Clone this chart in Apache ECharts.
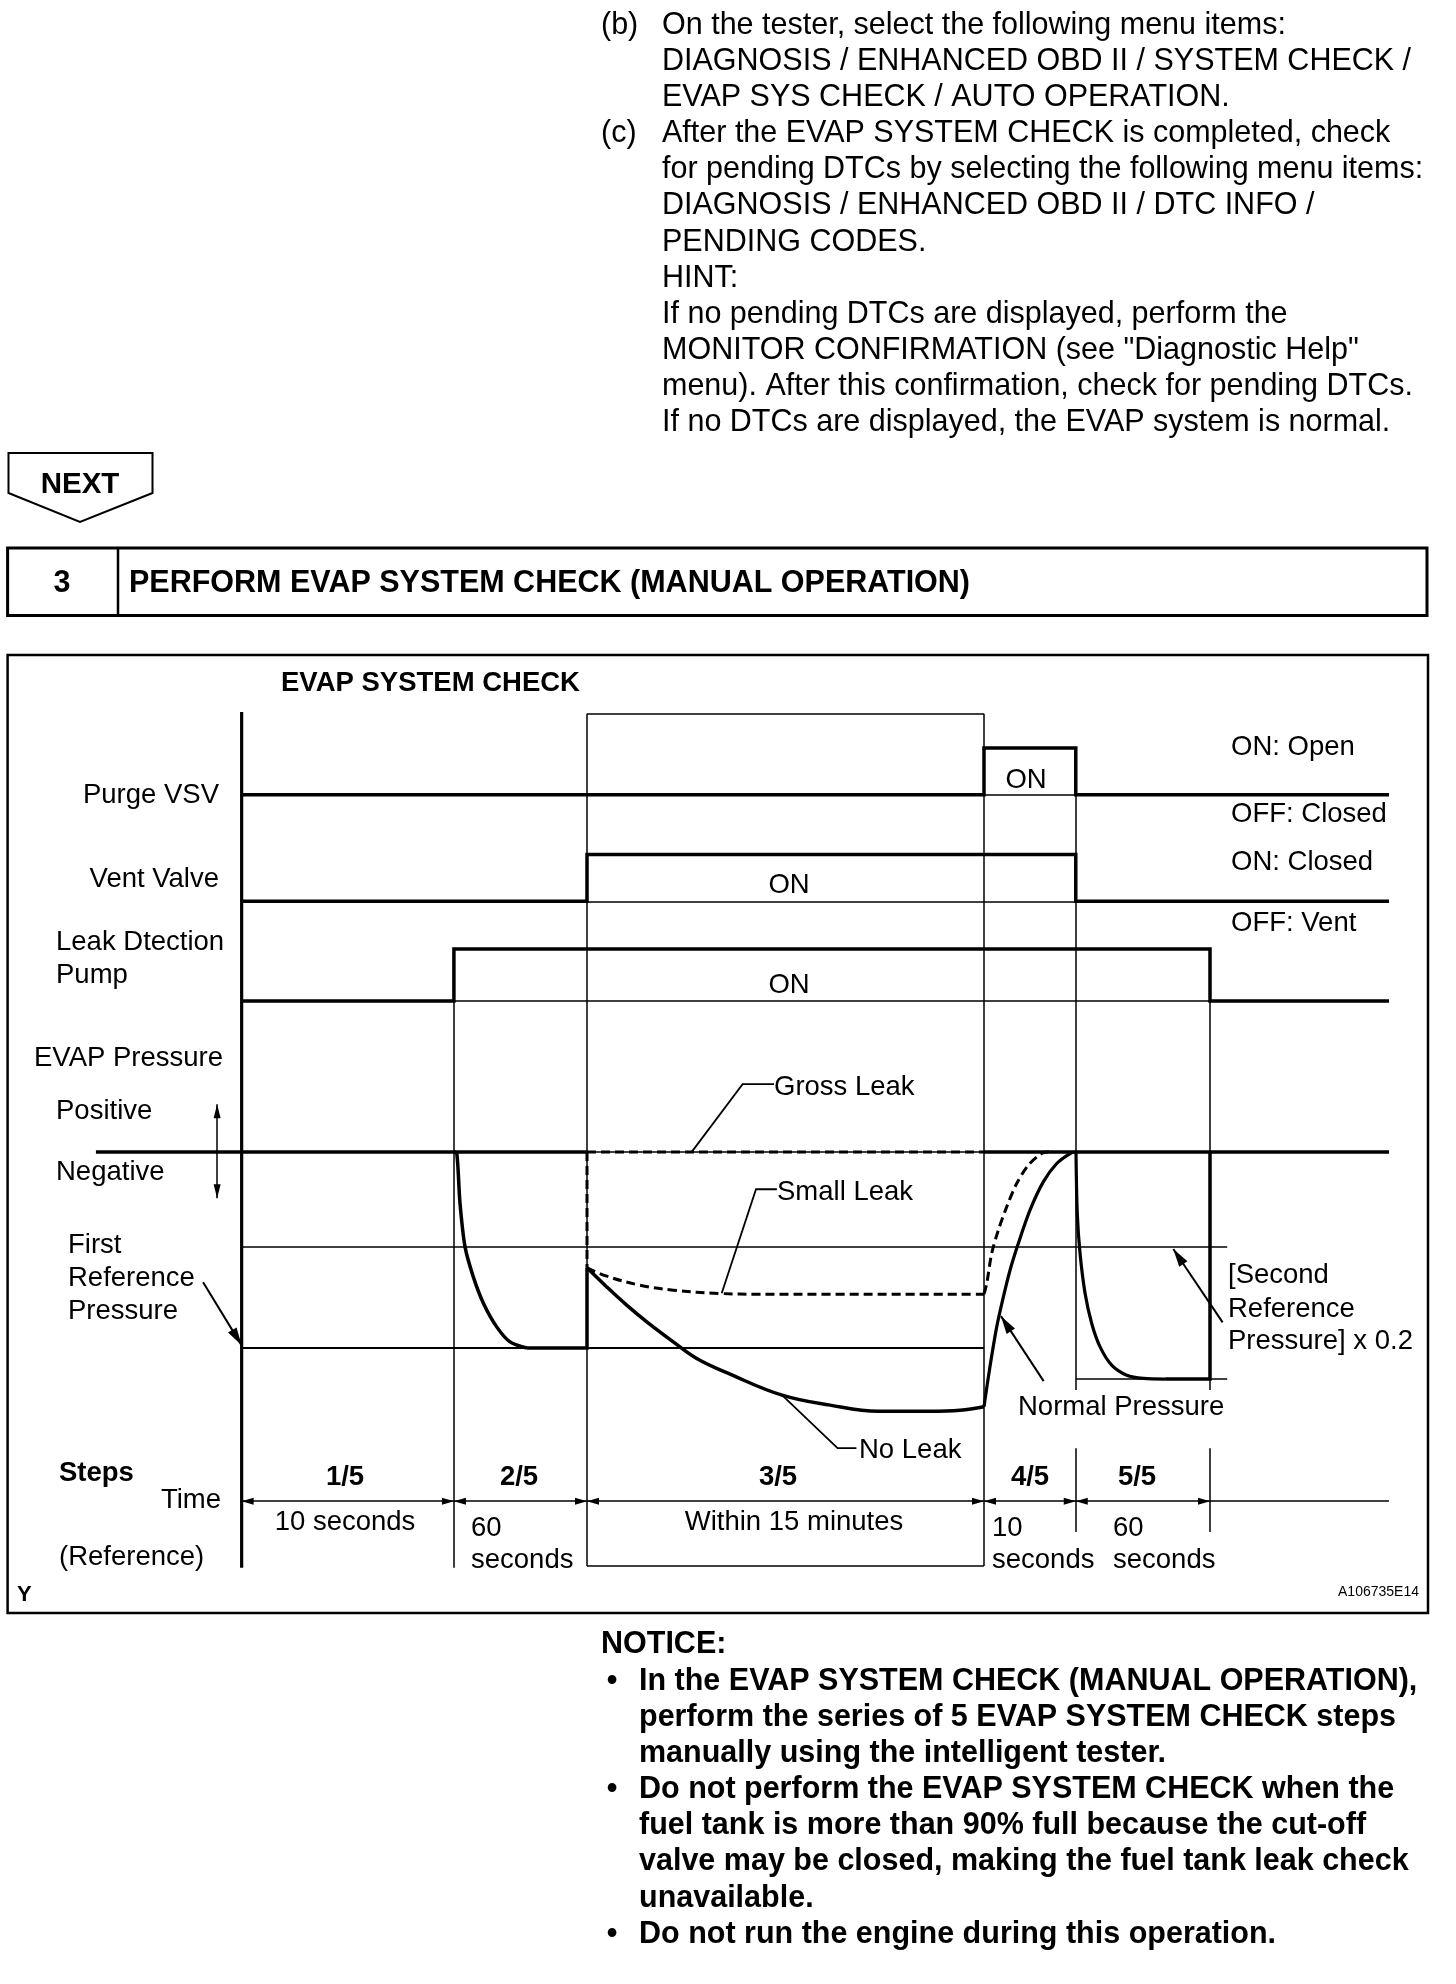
<!DOCTYPE html>
<html>
<head>
<meta charset="utf-8">
<title>EVAP SYSTEM CHECK</title>
<script src="https://cdn.jsdelivr.net/npm/echarts@6/dist/echarts.min.js"></script>
<style>
  html, body { margin: 0; padding: 0; background: #fff; }
  #page { width: 1456px; height: 1984px; }
</style>
</head>
<body>
<div id="page"></div>
<script>
// schematic time axis: 0 = main axis, 100 = right end of the traces
const stepEdges = [0, 18.5, 30.1, 64.7, 72.7, 84.4]
const stepNames = ['1/5', '2/5', '3/5', '4/5', '5/5']

// levels on the schematic vertical axis
const zeroLevel = 48.6 // atmospheric (Positive / Negative border)
const secondRefLevel = 37.45
const firstRefLevel = 25.6
const secondRefLowLevel = 21.95 // [Second Reference Pressure] x 0.2
const timeRowLevel = 7.62

// on/off traces
const purgeVsv = [[0, 90.5], [64.7, 90.5], [64.7, 96], [72.7, 96], [72.7, 90.5], [100, 90.5]]
const ventValve = [[0, 78], [30.1, 78], [30.1, 83.5], [72.7, 83.5], [72.7, 78], [100, 78]]
const leakPump = [[0, 66.3], [18.5, 66.3], [18.5, 72.4], [84.4, 72.4], [84.4, 66.3], [100, 66.3]]

// EVAP pressure traces
const stepTwoDrop = [[18.5, 48.6], [18.75, 48.45], [19.03, 42.6], [19.47, 37.45], [20.19, 33.94],
  [21.07, 30.85], [22.23, 28.07], [23.39, 26.31], [24.85, 25.6]]
const stepTwoHold = [[24.85, 25.6], [30.1, 25.6], [30.1, 35.0]]
const noLeak = [[30.1, 35.0], [31.82, 32.76], [33.56, 30.62], [35.31, 28.66], [37.62, 26.31],
  [39.66, 24.36], [42.57, 22.52], [47.1, 20.06], [51.28, 18.89], [55.46, 18.18], [60.0, 18.18],
  [62.61, 18.3], [64.7, 18.71]]
const noLeakRise = [[64.7, 18.71], [65.22, 23.38], [65.81, 28.07], [66.39, 31.59], [66.97, 34.72],
  [67.69, 37.85], [68.71, 41.76], [69.87, 45.08], [71.04, 47.24], [72.2, 48.41], [72.72, 48.62]]
const smallLeak = [[30.1, 35.0], [31.82, 34.02], [34.72, 32.96], [37.62, 32.38], [41.69, 31.99],
  [45.18, 31.91], [64.7, 31.91]]
const smallLeakRise = [[64.7, 31.91], [64.94, 33.16], [65.37, 36.68], [65.95, 39.41], [66.68, 42.15],
  [67.55, 44.89], [68.56, 47.04], [69.73, 48.41], [70.46, 48.62]]
const grossLeakDrop = [[30.1, 48.6], [30.1, 35.0]]
const grossLeakHold = [[30.1, 48.6], [64.7, 48.6]]
const stepFiveDrop = [[72.72, 48.62], [72.83, 41.41], [73.07, 36.72], [73.51, 32.02], [74.09, 28.47],
  [74.82, 25.72], [75.83, 23.58], [77.14, 22.4], [78.59, 22.02], [80.5, 21.95]]
const stepFiveHold = [[80.5, 21.95], [84.4, 21.95], [84.4, 48.6]]

// leader lines of the curve names
const grossLeader = [[39.23, 48.6], [43.66, 56.54], [46.4, 56.54]]
const smallLeader = [[41.84, 32.02], [44.83, 44.22], [46.65, 44.22]]
const noLeakLeader = [[47.1, 20.06], [51.94, 13.84], [53.58, 13.84]]

const introLines = [
  'On the tester, select the following menu items:',
  'DIAGNOSIS / ENHANCED OBD II / SYSTEM CHECK /',
  'EVAP SYS CHECK / AUTO OPERATION.',
  'After the EVAP SYSTEM CHECK is completed, check',
  'for pending DTCs by selecting the following menu items:',
  'DIAGNOSIS / ENHANCED OBD II / DTC INFO /',
  'PENDING CODES.',
  'HINT:',
  'If no pending DTCs are displayed, perform the',
  'MONITOR CONFIRMATION (see "Diagnostic Help"',
  'menu). After this confirmation, check for pending DTCs.',
  'If no DTCs are displayed, the EVAP system is normal.'
]
const noticeLines = [
  'In the EVAP SYSTEM CHECK (MANUAL OPERATION),',
  'perform the series of 5 EVAP SYSTEM CHECK steps',
  'manually using the intelligent tester.',
  'Do not perform the EVAP SYSTEM CHECK when the',
  'fuel tank is more than 90% full because the cut-off',
  'valve may be closed, making the fuel tank leak check',
  'unavailable.',
  'Do not run the engine during this operation.'
]

const FONT = '"Liberation Sans", Arial, Helvetica, sans-serif'
const BODY = 30.5 // document text
const DIA = 27.5 // diagram text
const DY = 2.5 // text baseline nudge

const label = (text, x, y, size, opts) => {
  opts = opts || {}
  return {
    type: 'text',
    x: x,
    y: y + DY,
    z: 100,
    silent: true,
    style: {
      text: text,
      fill: '#000',
      font: (opts.bold ? 'bold ' : '') + size + 'px ' + FONT,
      textAlign: opts.align || 'left',
      textVerticalAlign: 'middle'
    }
  }
}

const trace = (data, width, opts) => { // one black polyline
  opts = opts || {}
  return {
    type: 'line',
    data: data,
    symbol: 'none',
    silent: true,
    clip: false,
    animation: false,
    smooth: opts.smooth || false,
    lineStyle: {
      color: '#000',
      width: width,
      type: opts.dash ? [9, 5] : 'solid',
      join: 'miter',
      cap: 'butt'
    },
    z: opts.z || 3
  }
}

const seg = (x1, y1, x2, y2, width) => [
  { coord: [x1, y1], lineStyle: { width: width || 1.5 } },
  { coord: [x2, y2] }
]

// thin guide lines of the diagram
const guides = [
  seg(64.7, 90.5, 72.7, 90.5),
  seg(30.1, 78, 72.7, 78),
  seg(18.5, 66.3, 84.4, 66.3),
  seg(30.1, zeroLevel, 64.7, zeroLevel),
  seg(0, secondRefLevel, 85.9, secondRefLevel),
  seg(0, firstRefLevel, 64.7, firstRefLevel, 2.2),
  seg(72.7, secondRefLowLevel, 85.9, secondRefLowLevel),
  seg(30.1, 100, 64.7, 100),
  seg(30.1, 0, 64.7, 0),
  seg(30.1, 0, 30.1, 100),
  seg(64.7, 0, 64.7, 100),
  seg(18.5, 72.4, 18.5, -0.2),
  seg(72.7, 96, 72.7, 20.65),
  seg(84.4, 72.4, 84.4, 20.65),
  seg(72.7, 13.84, 72.7, 3.99),
  seg(84.4, 13.84, 84.4, 3.99),
  seg(84.4, timeRowLevel, 100, timeRowLevel)
]

// double headed arrows of the time row
const timeArrows = []
for (let i = 0; i < stepNames.length; i++) {
  timeArrows.push([
    { coord: [stepEdges[i], timeRowLevel] },
    { coord: [stepEdges[i + 1], timeRowLevel] }
  ])
}

const pointerArrows = [
  [{ coord: [-3.36, 33.31] }, { coord: [0, 25.9] }], // First Reference Pressure
  [{ coord: [69.9, 21.7] }, { coord: [66.18, 29.33] }], // Normal Pressure
  [{ coord: [85.5, 28.6] }, { coord: [81.2, 37.2] }] // [Second Reference Pressure] x 0.2
]

const option = {
  backgroundColor: '#fff',
  animation: false,
  grid: { left: 7.6, top: 655, width: 1420.4, height: 958 },
  xAxis: { type: 'value', min: -20.4, max: 103.4, show: false },
  yAxis: { type: 'value', min: -5.5, max: 106.9, show: false },
  series: [
    trace(purgeVsv, 3.5),
    trace(ventValve, 3.5),
    trace(leakPump, 3.5),
    trace([[-12.7, zeroLevel], [30.1, zeroLevel]], 3.5),
    trace([[64.7, zeroLevel], [100, zeroLevel]], 3.5),
    trace(stepTwoDrop, 3.5, { smooth: 0.3 }),
    trace(stepTwoHold, 3.5),
    trace(noLeak, 3.5, { smooth: 0.4 }),
    trace(noLeakRise, 3.2, { smooth: 0.3 }),
    trace(smallLeak, 3, { smooth: 0.4, dash: true }),
    trace(smallLeakRise, 3, { smooth: 0.3, dash: true }),
    trace(grossLeakDrop, 3, { dash: true }),
    trace(grossLeakHold, 3, { dash: true }),
    trace(stepFiveDrop, 3.2, { smooth: 0.3 }),
    trace(stepFiveHold, 3.5),
    trace(grossLeader, 1.8),
    trace(smallLeader, 1.8),
    trace(noLeakLeader, 1.8),
    Object.assign(trace([[0, 100.2], [0, -0.2]], 3.2), {
      markLine: {
        silent: true,
        animation: false,
        symbol: 'none',
        label: { show: false },
        lineStyle: { color: '#000', type: 'solid', width: 1.5 },
        data: guides
      }
    }),
    Object.assign(trace([[0, timeRowLevel], [0, timeRowLevel]], 1), {
      markLine: {
        silent: true,
        animation: false,
        symbol: ['triangle', 'triangle'],
        symbolSize: [7, 12],
        symbolOffset: [[0, 6], [0, 6]],
        label: { show: false },
        lineStyle: { color: '#000', type: 'solid', width: 1.5 },
        data: timeArrows
      }
    }),
    Object.assign(trace([[0, zeroLevel], [0, zeroLevel]], 1), {
      markLine: {
        silent: true,
        animation: false,
        symbol: ['none', 'triangle'],
        symbolSize: [10, 18],
        symbolOffset: [[0, 0], [0, 9]],
        label: { show: false },
        lineStyle: { color: '#000', type: 'solid', width: 2 },
        data: pointerArrows
      }
    }),
    Object.assign(trace([[0, zeroLevel], [0, zeroLevel]], 1), {
      markLine: {
        silent: true,
        animation: false,
        symbol: ['triangle', 'triangle'],
        symbolSize: [7, 14],
        symbolOffset: [[0, 7], [0, 7]],
        label: { show: false },
        lineStyle: { color: '#000', type: 'solid', width: 1.5 },
        data: [[{ coord: [-2.14, 54.19] }, { coord: [-2.14, 43.17] }]]
      }
    })
  ],
  graphic: []
}

const g = option.graphic

// top instructions
introLines.forEach((t, i) => g.push(label(t, 662, 23 + i * 36.1, BODY)))
g.push(label('(b)', 601, 23, BODY))
g.push(label('(c)', 601, 23 + 3 * 36.1, BODY))

// NEXT marker
g.push({
  type: 'polygon',
  shape: { points: [[8.5, 453], [152.5, 453], [152.5, 493], [80, 522], [8.5, 493]] },
  style: { fill: 'none', stroke: '#000', lineWidth: 2 }
})
g.push(label('NEXT', 80, 482, 29.5, { bold: true, align: 'center' }))

// step header
g.push({
  type: 'rect',
  shape: { x: 7.6, y: 548, width: 1419.4, height: 67.5 },
  style: { fill: 'none', stroke: '#000', lineWidth: 3 }
})
g.push({
  type: 'line',
  shape: { x1: 118, y1: 548, x2: 118, y2: 615.5 },
  style: { stroke: '#000', lineWidth: 2.5 }
})
g.push(label('3', 62, 581, BODY, { bold: true, align: 'center' }))
g.push(label('PERFORM EVAP SYSTEM CHECK (MANUAL OPERATION)', 129, 581, BODY, { bold: true }))

// diagram frame
g.push({
  type: 'rect',
  shape: { x: 7.6, y: 655, width: 1420.4, height: 958 },
  style: { fill: 'none', stroke: '#000', lineWidth: 2.5 }
})
g.push(label('EVAP SYSTEM CHECK', 281, 681, DIA, { bold: true }))
g.push(label('Purge VSV', 219, 793, DIA, { align: 'right' }))
g.push(label('Vent Valve', 219, 877, DIA, { align: 'right' }))
g.push(label('Leak Dtection', 56, 940, DIA))
g.push(label('Pump', 56, 973, DIA))
g.push(label('EVAP Pressure', 34, 1056, DIA))
g.push(label('Positive', 56, 1109, DIA))
g.push(label('Negative', 56, 1170, DIA))
g.push(label('First', 68, 1243, DIA))
g.push(label('Reference', 68, 1276, DIA))
g.push(label('Pressure', 68, 1309, DIA))

g.push(label('ON: Open', 1231, 745, DIA))
g.push(label('OFF: Closed', 1231, 812, DIA))
g.push(label('ON: Closed', 1231, 860, DIA))
g.push(label('OFF: Vent', 1231, 921, DIA))
g.push(label('ON', 1026, 778, DIA, { align: 'center' }))
g.push(label('ON', 789, 883, DIA, { align: 'center' }))
g.push(label('ON', 789, 983, DIA, { align: 'center' }))

g.push(label('Gross Leak', 774, 1085, DIA))
g.push(label('Small Leak', 777, 1190, DIA))
g.push(label('No Leak', 859, 1448, DIA))
g.push(label('Normal Pressure', 1018, 1405, DIA))
g.push(label('[Second', 1228, 1273, DIA))
g.push(label('Reference', 1228, 1307, DIA))
g.push(label('Pressure] x 0.2', 1228, 1339, DIA))

// steps / time row
g.push(label('Steps', 59, 1471, DIA, { bold: true }))
g.push(label('Time', 221, 1498, DIA, { align: 'right' }))
g.push(label('(Reference)', 59, 1555, DIA))
const stepCenters = [345, 519, 778, 1030, 1137]
stepNames.forEach((s, i) => g.push(label(s, stepCenters[i], 1475, DIA, { bold: true, align: 'center' })))
g.push(label('10 seconds', 345, 1520, DIA, { align: 'center' }))
g.push(label('60', 471, 1526, DIA))
g.push(label('seconds', 471, 1558, DIA))
g.push(label('Within 15 minutes', 794, 1520, DIA, { align: 'center' }))
g.push(label('10', 992, 1526, DIA))
g.push(label('seconds', 992, 1558, DIA))
g.push(label('60', 1113, 1526, DIA))
g.push(label('seconds', 1113, 1558, DIA))

g.push(label('Y', 17, 1592, 22, { bold: true }))
g.push(label('A106735E14', 1419, 1590, 14, { align: 'right' }))

// notice
g.push(label('NOTICE:', 601, 1642, BODY, { bold: true }))
noticeLines.forEach((t, i) => g.push(label(t, 639, 1679 + i * 36.1, BODY, { bold: true })))
;[0, 3, 7].forEach(i => g.push(label('\u2022', 612, 1679 + i * 36.1, BODY, { bold: true, align: 'center' })))

const chart = echarts.init(document.getElementById('page'))
chart.setOption(option)
</script>
</body>
</html>
